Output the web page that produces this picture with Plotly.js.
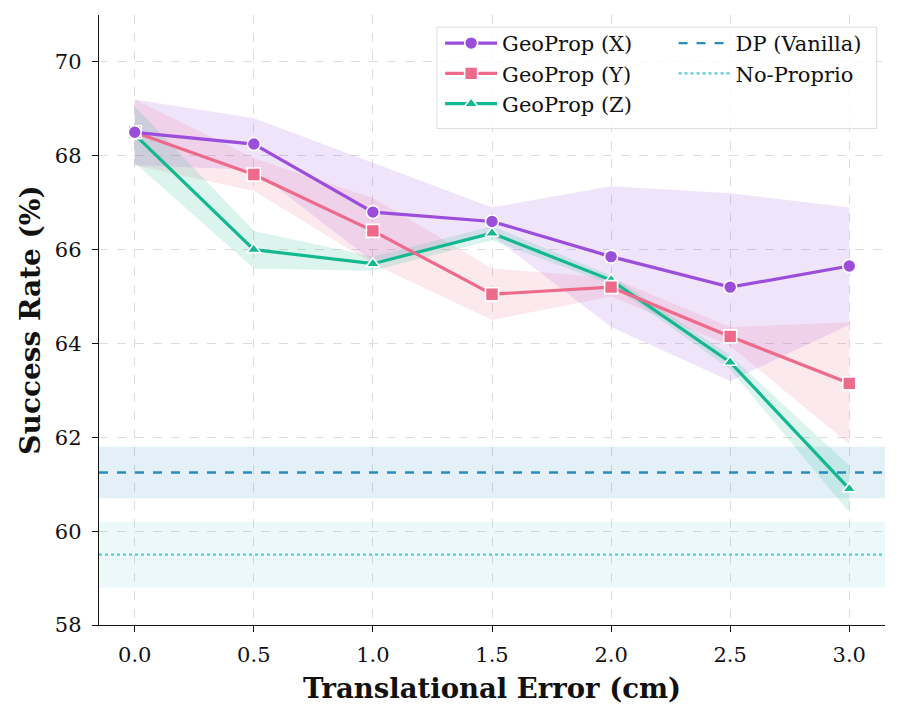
<!DOCTYPE html>
<html>
<head>
<meta charset="utf-8">
<script src="https://cdn.plot.ly/plotly-3.0.1.min.js"></script>
<style>
  html, body { margin: 0; padding: 0; background: #fff; }
  #chart { width: 900px; height: 718px; }
</style>
</head>
<body>
<div id="chart"></div>
<script>
// Translational error levels (cm)
const errors = [0.0, 0.5, 1.0, 1.5, 2.0, 2.5, 3.0];

// GeoProp success rates (%) with their standard deviations
const geoX = [68.5, 68.25, 66.8, 66.6, 65.85, 65.2, 65.65];
const geoXStd = [0.7, 0.55, 1.05, 0.3, 1.5, 2.0, 1.25];
const geoY = [68.5, 67.6, 66.4, 65.05, 65.2, 64.15, 63.15];
const geoYStd = [0.7, 0.35, 0.7, 0.55, 0.2, 0.2, 1.3];
const geoZ = [68.45, 66.0, 65.7, 66.35, 65.35, 63.6, 60.9];
const geoZStd = [0.6, 0.4, 0.15, 0.15, 0.1, 0.15, 0.5];

// Baselines (constant across error levels)
const dpVanilla = 61.25;
const dpVanillaStd = 0.55;
const noProprio = 59.5;
const noProprioStd = 0.7;

const xRange = [-0.15, 3.15];
const yTicks = [58, 60, 62, 64, 66, 68, 70];
const xTicks = [0.0, 0.5, 1.0, 1.5, 2.0, 2.5, 3.0];

const FONT = "DejaVu Serif, serif";

function band(xs, mean, std, fillcolor) {
  const upper = mean.map((m, i) => m + std[i]);
  const lower = mean.map((m, i) => m - std[i]);
  return {
    x: xs.concat(xs.slice().reverse()),
    y: upper.concat(lower.slice().reverse()),
    type: "scatter", mode: "lines", fill: "toself",
    fillcolor: fillcolor, line: { width: 0, color: "rgba(0,0,0,0)" },
    hoverinfo: "skip", showlegend: false
  };
}

function flatBand(value, std, fillcolor) {
  return {
    x: [xRange[0], xRange[1], xRange[1], xRange[0]],
    y: [value + std, value + std, value - std, value - std],
    type: "scatter", mode: "lines", fill: "toself",
    fillcolor: fillcolor, line: { width: 0, color: "rgba(0,0,0,0)" },
    hoverinfo: "skip", showlegend: false
  };
}

function series(name, ys, color, symbol, rank) {
  return {
    x: errors, y: ys, name: name, legend: "legend", legendrank: rank,
    type: "scatter", mode: "lines+markers",
    line: { color: color, width: 3.2 },
    marker: { color: color, symbol: symbol, size: symbol === "triangle-up" ? 12 : 13,
              line: { color: "#ffffff", width: 1.6 } }
  };
}

const cX = "#9b4ddb", cY = "#ee6a8a", cZ = "#12b890";
const cDP = "#2a8bbf", cNP = "#5ccbd8";

const traces = [
  flatBand(noProprio, noProprioStd, "rgba(92,203,216,0.12)"),
  flatBand(dpVanilla, dpVanillaStd, "rgba(42,139,191,0.13)"),
  band(errors, geoX, geoXStd, "rgba(155,77,219,0.15)"),
  band(errors, geoY, geoYStd, "rgba(238,106,138,0.15)"),
  band(errors, geoZ, geoZStd, "rgba(18,184,144,0.15)"),
  {
    x: xRange, y: [noProprio, noProprio], name: "No-Proprio", legend: "legend2", legendrank: 2,
    type: "scatter", mode: "lines",
    line: { color: cNP, width: 2.4, dash: "dot" }
  },
  {
    x: xRange, y: [dpVanilla, dpVanilla], name: "DP (Vanilla)", legend: "legend2", legendrank: 1,
    type: "scatter", mode: "lines",
    line: { color: cDP, width: 2.4, dash: "dash" }
  },
  series("GeoProp (Z)", geoZ, cZ, "triangle-up", 3),
  series("GeoProp (Y)", geoY, cY, "square", 2),
  series("GeoProp (X)", geoX, cX, "circle", 1)
];

const legendFont = { family: FONT, size: 21, color: "#111" };

const layout = {
  width: 900, height: 718,
  margin: { l: 99, r: 15, t: 15, b: 93 },
  paper_bgcolor: "#ffffff", plot_bgcolor: "#ffffff",
  font: { family: FONT, color: "#111", size: 20 },
  showlegend: true,
  legend: {
    x: 0.434, xanchor: "left", y: 0.987, yanchor: "top",
    bgcolor: "rgba(0,0,0,0)", borderwidth: 0,
    font: legendFont, itemwidth: 52, tracegroupgap: 0
  },
  legend2: {
    x: 0.731, xanchor: "left", y: 0.987, yanchor: "top",
    bgcolor: "rgba(0,0,0,0)", borderwidth: 0,
    font: legendFont, itemwidth: 52, tracegroupgap: 0
  },
  shapes: [{
    type: "rect", xref: "paper", yref: "paper", layer: "above",
    x0: 0.430, x1: 0.9895, y0: 0.814, y1: 0.980,
    fillcolor: "rgba(255,255,255,0.8)", line: { color: "#dddddd", width: 1 }
  }],
  xaxis: {
    range: xRange, tickvals: xTicks, tickformat: ".1f",
    showgrid: true, gridcolor: "#dcdcdc", griddash: "dash", gridwidth: 1,
    zeroline: false, showline: true, linecolor: "#111", linewidth: 1.2,
    ticks: "outside", ticklen: 6, tickcolor: "#111", ticklabelstandoff: 5,
    tickfont: { family: FONT, size: 21 },
    title: { text: "<b>Translational Error (cm)</b>", font: { family: FONT, size: 27.5 }, standoff: 12 }
  },
  yaxis: {
    range: [58, 71], tickvals: yTicks,
    showgrid: true, gridcolor: "#dcdcdc", griddash: "dash", gridwidth: 1,
    zeroline: false, showline: true, linecolor: "#111", linewidth: 1.2,
    ticks: "outside", ticklen: 6, tickcolor: "#111", ticklabelstandoff: 6,
    tickfont: { family: FONT, size: 21 },
    title: { text: "<b>Success Rate (%)</b>", font: { family: FONT, size: 28 }, standoff: 6 }
  }
};

Plotly.newPlot("chart", traces, layout, { displayModeBar: false, staticPlot: true });
</script>
</body>
</html>
